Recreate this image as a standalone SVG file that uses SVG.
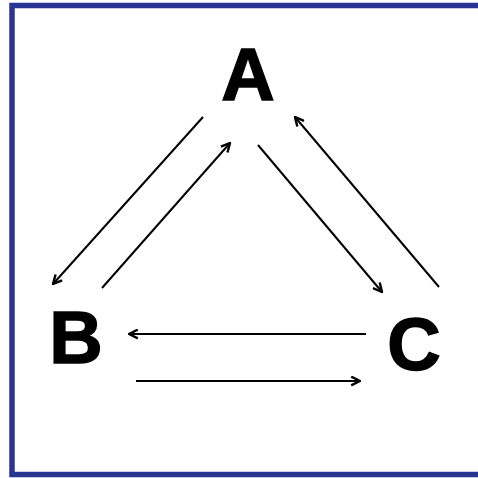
<svg xmlns="http://www.w3.org/2000/svg" width="478" height="478" viewBox="0 0 478 478">
<style>
.lbl{font-family:"Liberation Sans",Arial,sans-serif;font-weight:bold;font-size:74px;fill:#000;stroke:#000;stroke-width:1.5;text-anchor:middle}
.arr{stroke:#000;stroke-width:2;fill:none;marker-end:url(#ah)}
</style>
<defs>
<marker id="ah" viewBox="0 0 10 10" refX="9" refY="5" markerWidth="5.5" markerHeight="5.5" orient="auto" markerUnits="strokeWidth">
<path d="M1,1 L9,5 L1,9" fill="none" stroke="#000" stroke-width="2.2"/>
</marker>
</defs>
<rect width="478" height="478" fill="#fff"/>
<rect x="12" y="5.5" width="480" height="469" fill="none" stroke="#283593" stroke-width="5.5"/>
<g id="connectors">
<line class="arr" x1="203" y1="117" x2="53" y2="284"/>
<line class="arr" x1="102" y1="288" x2="230" y2="143"/>
<line class="arr" x1="258" y1="145" x2="382" y2="292"/>
<line class="arr" x1="439" y1="287" x2="295" y2="117"/>
<line class="arr" x1="366" y1="334" x2="129" y2="334"/>
<line class="arr" x1="136" y1="381" x2="360" y2="381"/>
</g>
<g id="A"><text class="lbl" x="248" y="100">A</text></g>
<g id="B"><text class="lbl" x="76" y="363">B</text></g>
<g id="C"><text class="lbl" x="414" y="370">C</text></g>
</svg>
